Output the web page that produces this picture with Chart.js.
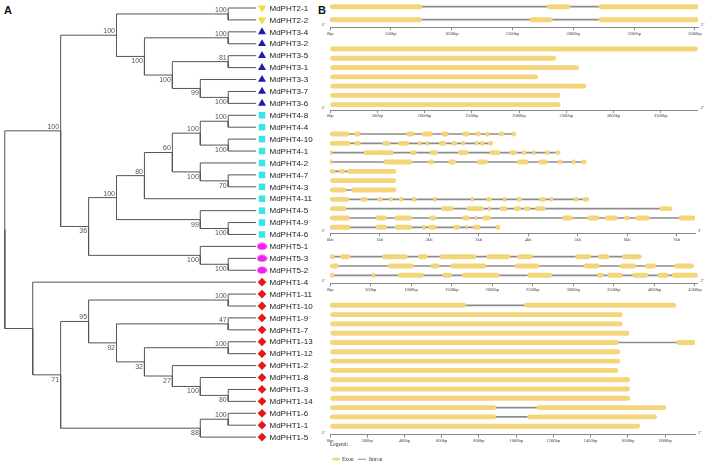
<!DOCTYPE html>
<html>
<head>
<meta charset="utf-8">
<title>MdPHT phylogeny and gene structure</title>
<script src="https://cdn.jsdelivr.net/npm/chart.js@4.4.1/dist/chart.umd.min.js"></script>
<style>
  body { margin: 0; background: #fff; }
  #fig { position: relative; width: 708px; height: 469px; overflow: hidden; }
  #fig canvas { position: absolute; }
  .panel-tag { position: absolute; font: bold 11px "Liberation Sans", Arial, sans-serif; color: #111; }
</style>
</head>
<body>
<div id="fig">
  <div class="panel-tag" style="left:4px; top:4px">A</div>
  <div class="panel-tag" style="left:318px; top:4px">B</div>
  <canvas id="tree" width="320" height="469" style="left:0; top:0"></canvas>
  <canvas id="gsPHT2"></canvas>
  <canvas id="gsPHT3"></canvas>
  <canvas id="gsPHT4"></canvas>
  <canvas id="gsPHT5"></canvas>
  <canvas id="gsPHT1"></canvas>
</div>
<script>
(function () {
    "use strict";

    // Tree topology: [bootstrap, child, child], leaves are names
    var cladePHT2 = [100, 'MdPHT2-1', 'MdPHT2-2'];
    var cladePHT3 = [100, [100, 'MdPHT3-4', 'MdPHT3-2'], [100, [81, 'MdPHT3-5', 'MdPHT3-1'], [99, 'MdPHT3-3', [100, 'MdPHT3-7', 'MdPHT3-6']]]];
    var cladePHT4 = [100, [80, [60, [100, [100, 'MdPHT4-8', 'MdPHT4-4'], [100, 'MdPHT4-10', 'MdPHT4-1']], [100, 'MdPHT4-2', [70, 'MdPHT4-7', 'MdPHT4-3']]], 'MdPHT4-11'], [99, 'MdPHT4-5', [100, 'MdPHT4-9', 'MdPHT4-6']]];
    var cladePHT5 = [100, 'MdPHT5-1', [100, 'MdPHT5-3', 'MdPHT5-2']];
    var cladePHT1 = [null, 'MdPHT1-4', [71, [95, [100, 'MdPHT1-11', 'MdPHT1-10'], [92, [47, 'MdPHT1-9', 'MdPHT1-7'], [32, [100, 'MdPHT1-13', 'MdPHT1-12'], [27, 'MdPHT1-2', [100, 'MdPHT1-8', [80, 'MdPHT1-3', 'MdPHT1-14']]]]]], [88, [100, 'MdPHT1-6', 'MdPHT1-1'], 'MdPHT1-5']]];
    var tree = [null, [100, [100, cladePHT2, cladePHT3], [36, cladePHT4, cladePHT5]], cladePHT1];

    var groupPrefixes = ['MdPHT1-', 'MdPHT2-', 'MdPHT3-', 'MdPHT4-', 'MdPHT5-'];

    // Exons [start, end] in bp, one list per gene, top to bottom
    var exonsPHT2 = [
        [[0, 754], [1786, 1973], [2211, 3027]],
        [[0, 754], [1644, 1827], [2211, 3027]]
    ];
    var exonsPHT3 = [[[0, 3890]], [[0, 2388]], [[0, 2631]], [[0, 2197]], [[0, 2709]], [[0, 2434]], [[0, 2434]]];
    var exonsPHT4 = [
        [[0, 380], [490, 610], [1550, 1700], [1860, 2070], [2250, 2390], [2680, 2810], [2940, 3040], [3140, 3210], [3420, 3510], [3670, 3750]],
        [[0, 400], [500, 610], [1060, 1210], [1380, 1590], [1780, 1840], [1940, 1990], [2210, 2340], [2460, 2560], [2660, 2720], [2930, 2990], [3040, 3110], [3200, 3280]],
        [[0, 40], [690, 1280], [1630, 1740], [2020, 2170], [2590, 2790], [3230, 3430], [3630, 3770], [3880, 3960], [4090, 4140], [4350, 4430], [4560, 4640]],
        [[0, 40], [1090, 1660], [1990, 2090], [2400, 2540], [2970, 3180], [3780, 4000], [4210, 4390], [4610, 4680], [4890, 4950], [5080, 5170]],
        [[0, 100], [190, 290], [350, 1330]],
        [[0, 1330]],
        [[0, 320], [440, 1330]],
        [[0, 380], [620, 750], [960, 1050], [1200, 1260], [1400, 1470], [1660, 1740], [2090, 2140], [2850, 2900], [3160, 3260], [3500, 3550], [3780, 3870], [4230, 4350], [4440, 4500], [4930, 5010], [5110, 5220]],
        [[0, 320], [2250, 2490], [2760, 3100], [3200, 3240], [3430, 3570], [3720, 3850], [3920, 4040], [4150, 4350], [6660, 6900]],
        [[0, 400], [930, 1140], [1310, 1650], [2010, 2140], [2680, 2810], [2930, 2960], [3080, 3240], [4690, 4900], [5200, 5430], [5550, 5800], [5950, 6040], [6170, 6450], [7050, 7370]],
        [[0, 400], [930, 1140], [1310, 1650], [1870, 1920], [1990, 2140], [2500, 2620], [2750, 2770], [2890, 3030], [3350, 3430]]
    ];
    var exonsPHT5 = [
        [[0, 53], [132, 247], [645, 953], [1089, 1200], [1356, 1800], [1932, 2219], [2310, 2495], [3029, 3214], [3308, 3440], [3605, 3835]],
        [[0, 103], [719, 1028], [1245, 1344], [1488, 1924], [2281, 2577], [3132, 3317], [3576, 3769], [3884, 4016], [4246, 4480]],
        [[0, 49], [522, 555], [843, 1151], [1389, 1500], [1632, 2084], [2437, 2733], [3300, 3370], [3424, 3605], [3732, 3917], [4040, 4172], [4221, 4530]]
    ];
    var exonsPHT1 = [
        [[0, 729], [1044, 1857]],
        [[0, 1571]], [[0, 1571]], [[0, 1607]],
        [[0, 1549], [1863, 1961]],
        [[0, 1557]], [[0, 1557]], [[0, 1546]],
        [[0, 1610]], [[0, 1610]], [[0, 1610]],
        [[0, 890], [1112, 1804]],
        [[0, 890], [1062, 1752]],
        [[0, 1664]]
    ];

    // Axis extent and tick spacing per panel (PHT2, PHT3, PHT4, PHT5, PHT1)
    var axisMax = [3025, 3890, 7370, 4530, 1961];
    var tickStep = [500, 500, 1000, 500, 200];
    var tickUnit = ['bp', 'bp', 'kb', 'bp', 'bp'];

    // Page layout of the gene panels (px)
    var panelRowTop = [6.7, 49, 134, 256.7, 305.3];
    var panelRowGap = [13, 9.28, 9.33, 9.3, 9.3];
    var panelAxisY = [27.3, 110, 233.3, 283.3, 434.7];
    var panelRight = [698, 697.7, 695, 697.4, 695];

    var EXON = '#f4d57a', INTRON = '#8c8c8c', AXIS = '#8a8a8a';

    Chart.defaults.animation = false;
    Chart.defaults.events = [];
    Chart.defaults.plugins.legend.display = false;
    Chart.defaults.plugins.tooltip.enabled = false;


    // Tree layout: rows from leaf order, x from node height
    var leaves = [];
    function build(n) {
        if (typeof n === 'string') {
            leaves.push(n);
            return { name: n, y: leaves.length - 1, h: 0, kids: [] };
        }
        var kids = n.slice(1).map(build);
        return {
            boot: n[0],
            kids: kids,
            y: (kids[0].y + kids[kids.length - 1].y) / 2,
            h: 1 + Math.max.apply(null, kids.map(function (k) { return k.h; }))
        };
    }
    var root = build(tree);

    var edges = [], boots = [];
    function place(n, parent, idx) {
        n.x = root.h - n.h;
        if (parent) {
            edges.push([{ x: parent.x, y: parent.y }, { x: parent.x, y: n.y }, { x: n.x, y: n.y }]);
            if (n.kids.length && n.boot != null) {
                boots.push({ x: n.x, y: n.y, v: n.boot, up: idx === 0 });
            }
        }
        n.kids.forEach(function (k, i) { place(k, n, i); });
    }
    place(root, null, 0);

    var markerX = root.h + 0.21;

    // ellipse marker for PHT5
    var ell = document.createElement('canvas');
    ell.width = 11; ell.height = 8;
    var ec = ell.getContext('2d');
    ec.fillStyle = '#ee22ee';
    ec.beginPath(); ec.ellipse(5.5, 4, 5, 3.6, 0, 0, Math.PI * 2); ec.fill();

    var markerStyles = [
        { color: '#e3191c', style: 'rectRot', radius: 4.4, rotation: 0 },
        { color: '#f1df3c', style: 'triangle', radius: 4.8, rotation: 180 },
        { color: '#1d1dab', style: 'triangle', radius: 4.6, rotation: 0 },
        { color: '#3be3ea', style: 'rect', radius: 4.6, rotation: 0 },
        { color: '#ee22ee', style: ell, radius: 4, rotation: 0 }
    ];

    var treeSets = edges.map(function (pts) {
        return { data: pts, showLine: true, borderColor: '#555', borderWidth: 1, pointRadius: 0, clip: false };
    });
    groupPrefixes.forEach(function (p, g) {
        var m = markerStyles[g];
        treeSets.push({
            data: leaves.map(function (name, i) { return { name: name, x: markerX, y: i }; })
                        .filter(function (d) { return d.name.indexOf(p) === 0; }),
            showLine: false,
            pointStyle: m.style,
            pointRadius: m.radius,
            rotation: m.rotation,
            backgroundColor: m.color,
            borderColor: m.color,
            borderWidth: 0,
            clip: false
        });
    });

    // leaf names + bootstrap values
    var treeText = {
        id: 'treeText',
        afterDatasetsDraw: function (chart) {
            var ctx = chart.ctx, xs = chart.scales.x, ys = chart.scales.y;
            ctx.save();
            ctx.textBaseline = 'middle';
            ctx.fillStyle = '#1a1a1a';
            ctx.font = '8px "Liberation Sans", Arial, sans-serif';
            leaves.forEach(function (name, i) {
                ctx.fillText(name, xs.getPixelForValue(markerX) + 7.5, ys.getPixelForValue(i) + 0.5);
            });
            ctx.fillStyle = '#555';
            ctx.font = '7px "Liberation Sans", Arial, sans-serif';
            ctx.textAlign = 'right';
            boots.forEach(function (b) {
                ctx.fillText(String(b.v), xs.getPixelForValue(b.x) - 1.5, ys.getPixelForValue(b.y) + (b.up ? -4 : 5));
            });
            ctx.restore();
        }
    };

    var rowGap = 11.92;
    new Chart(document.getElementById('tree'), {
        type: 'scatter',
        data: { datasets: treeSets },
        options: {
            responsive: false,
            layout: { padding: { left: 4, right: 8, top: 8, bottom: 469 - 8 - (leaves.length - 1) * rowGap } },
            scales: {
                x: { type: 'linear', min: 0, max: 11, display: false },
                y: { type: 'linear', min: 0, max: leaves.length - 1, reverse: true, display: false }
            }
        },
        plugins: [treeText]
    });


    // 5' / 3' marks at the axis ends
    var primeEnds = {
        id: 'primeEnds',
        afterDraw: function (chart) {
            var a = chart.chartArea, ctx = chart.ctx;
            ctx.save();
            ctx.font = 'italic 4.5px "Liberation Serif", serif';
            ctx.fillStyle = '#444';
            ctx.textBaseline = 'bottom';
            ctx.textAlign = 'right';
            ctx.fillText("5'", a.left - 5, a.bottom);
            ctx.textAlign = 'left';
            ctx.fillText("3'", a.right + 3, a.bottom);
            ctx.restore();
        }
    };

    // Legend under the last panel
    var exonLegend = {
        id: 'exonLegend',
        afterDraw: function (chart) {
            var a = chart.chartArea, ctx = chart.ctx, y0 = a.bottom;
            ctx.save();
            ctx.font = '5.5px "Liberation Serif", serif';
            ctx.fillStyle = '#333';
            ctx.textBaseline = 'middle';
            ctx.fillText('Legend:', a.left, y0 + 9.6);
            ctx.fillStyle = EXON;
            ctx.beginPath(); ctx.roundRect(a.left + 2, y0 + 23, 8, 2.8, 1.4); ctx.fill();
            ctx.fillStyle = '#333';
            ctx.fillText('Exon', a.left + 12, y0 + 24.4);
            ctx.strokeStyle = INTRON; ctx.lineWidth = 1;
            ctx.beginPath(); ctx.moveTo(a.left + 28, y0 + 24.5); ctx.lineTo(a.left + 36, y0 + 24.5); ctx.stroke();
            ctx.fillText('Intron', a.left + 39, y0 + 24.4);
            ctx.restore();
        }
    };

    function genePanel(id, exons, k, extra) {
        var s = panelRowGap[k], top = panelRowTop[k] - s / 2, axisY = panelAxisY[k];
        var cTop = Math.max(0, Math.floor(top) - 2);
        var cBottom = extra ? 469 : Math.ceil(axisY + 12);
        var cv = document.getElementById(id);
        cv.width = 708 - 315;
        cv.height = cBottom - cTop;
        cv.style.left = '315px';
        cv.style.top = cTop + 'px';

        var exonBars = [], intronBars = [];
        exons.forEach(function (g, i) {
            g.forEach(function (e) { exonBars.push({ x: e, y: i }); });
            if (g.length > 1) intronBars.push({ x: [g[0][0], g[g.length - 1][1]], y: i });
        });

        return new Chart(cv, {
            type: 'bar',
            data: {
                datasets: [
                    { data: exonBars, backgroundColor: EXON, barThickness: 4.2, borderRadius: 2.1, borderSkipped: false, grouped: false },
                    { data: intronBars, backgroundColor: INTRON, barThickness: 1, grouped: false }
                ]
            },
            options: {
                indexAxis: 'y',
                responsive: false,
                layout: { padding: { left: 330 - 315, right: 708 - panelRight[k], top: top - cTop, bottom: cBottom - 10 - axisY } },
                scales: {
                    y: { type: 'linear', reverse: true, offset: false, min: -0.5, max: (axisY - top) / s - 0.5, display: false },
                    x: {
                        type: 'linear', min: 0, max: axisMax[k], position: 'bottom', offset: false,
                        border: { display: true, color: AXIS, width: 1 },
                        grid: { drawOnChartArea: false, drawTicks: true, tickLength: 3, color: AXIS },
                        ticks: {
                            autoSkip: false, maxRotation: 0, padding: 0.5,
                            color: '#444', font: { family: '"Liberation Serif", serif', size: 4.5 },
                            callback: function (v) { return tickUnit[k] === 'kb' ? (v / 1000) + 'kb' : v + 'bp'; }
                        },
                        afterBuildTicks: function (sc) {
                            var t = [];
                            for (var v = 0; v <= axisMax[k]; v += tickStep[k]) t.push({ value: v });
                            sc.ticks = t;
                        },
                        afterFit: function (sc) { sc.height = 10; }
                    }
                }
            },
            plugins: [primeEnds].concat(extra ? [extra] : [])
        });
    }

    genePanel('gsPHT2', exonsPHT2, 0);
    genePanel('gsPHT3', exonsPHT3, 1);
    genePanel('gsPHT4', exonsPHT4, 2);
    genePanel('gsPHT5', exonsPHT5, 3);
    genePanel('gsPHT1', exonsPHT1, 4, exonLegend);

})();
</script>
</body>
</html>
